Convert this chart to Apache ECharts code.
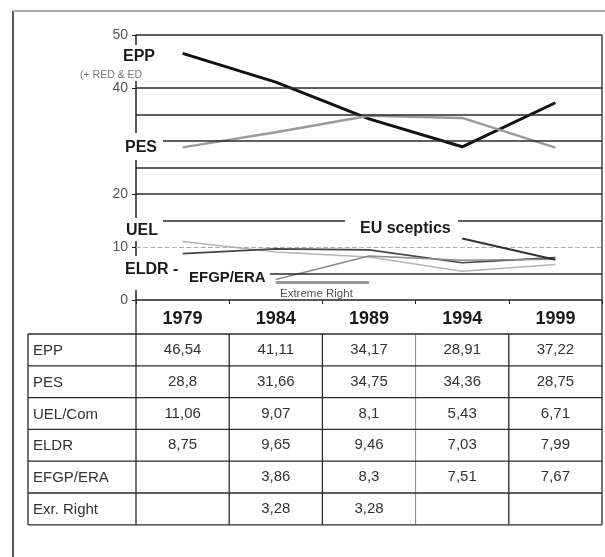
<!DOCTYPE html>
<html><head><meta charset="utf-8">
<script src="https://cdn.jsdelivr.net/npm/echarts/dist/echarts.min.js"></script>
<style>html,body{margin:0;padding:0;background:#fff}#c{width:605px;height:557px}</style>
</head><body><div id="c"></div>
<script>
// ---- data ----
const years = ['1979', '1984', '1989', '1994', '1999'];
const epp = [46.54, 41.11, 34.17, 28.91, 37.22];
const pes = [28.8, 31.66, 34.75, 34.36, 28.75];
const uelCom = [11.06, 9.07, 8.1, 5.43, 6.71];
const eldr = [8.75, 9.65, 9.46, 7.03, 7.99];
const efgpEra = [null, 3.86, 8.3, 7.51, 7.67];
const extrRight = [null, 3.28, 3.28, null, null];
const rowLabels = ['EPP', 'PES', 'UEL/Com', 'ELDR', 'EFGP/ERA', 'Exr. Right'];
const rowData = [epp, pes, uelCom, eldr, efgpEra, extrRight];
const gridValues = [5, 15, 20, 25, 30, 35, 40, 50];
const lightGridValues = [10];
const euPointer = [[3, 11.6], [4, 7.6]]; // annotation leader line (category index, value)

const FONT = '"Liberation Sans", Arial, Helvetica, sans-serif';
const chart = echarts.init(document.getElementById('c'), null, {renderer: 'canvas'});

function lineSeries(name, data, color, width) {
  return {name, type: 'line', data, symbol: 'none', showSymbol: false, connectNulls: false,
    lineStyle: {color, width}, itemStyle: {color}, z: 3, silent: true, animation: false,
    emphasis: {disabled: true}};
}

const option = {
  backgroundColor: '#fff',
  animation: false,
  grid: {left: 136, right: 3, top: 35, bottom: 257, containLabel: false},
  xAxis: {
    type: 'category', data: years, boundaryGap: true,
    axisLine: {lineStyle: {color: '#222', width: 1.5}},
    axisTick: {show: true, length: 4, lineStyle: {color: '#222'}},
    axisLabel: {fontFamily: FONT, fontSize: 18, fontWeight: 'bold', color: '#1a1a1a', margin: 10},
    splitLine: {show: false}
  },
  yAxis: {
    type: 'value', min: 0, max: 50, interval: 10,
    axisLine: {show: true, lineStyle: {color: '#222', width: 1.5}},
    axisTick: {show: true, length: 4, lineStyle: {color: '#222'}},
    axisLabel: {fontFamily: FONT, fontSize: 14, color: '#555', margin: 8},
    splitLine: {show: false}
  },
  series: [
    {type: 'line', data: [], z: 1, silent: true, animation: false,
      markLine: {silent: true, symbol: ['none', 'none'], label: {show: false}, animation: false,
        emphasis: {disabled: true},
        data: gridValues.map(v => ({yAxis: v, lineStyle: {color: '#2a2a2a', width: 1.5, type: 'solid'}}))
          .concat(lightGridValues.map(v => ({yAxis: v, lineStyle: {color: '#aaa', width: 1.2, type: 'dashed'}})))
          .concat([[{coord: euPointer[0], lineStyle: {color: '#333', width: 2, type: 'solid'}}, {coord: euPointer[1]}]])
      }},
    lineSeries('EPP', epp, '#111', 3),
    lineSeries('PES', pes, '#9a9a9a', 2.5),
    lineSeries('UEL/Com', uelCom, '#b4b4b4', 1.5),
    lineSeries('ELDR', eldr, '#444', 1.6),
    lineSeries('EFGP/ERA', efgpEra, '#8a8a8a', 1.5),
    lineSeries('Extr. Right', extrRight, '#999', 3)
  ]
};
chart.setOption(option);

// ---- table + annotations, positioned from the chart's own scales ----
const cx = years.map(y => chart.convertToPixel({xAxisIndex: 0}, y));
const bandW = cx[1] - cx[0];
const gLeft = cx[0] - bandW / 2, gRight = cx[cx.length - 1] + bandW / 2;
const y0 = chart.convertToPixel({yAxisIndex: 0}, 0);
const yTop = chart.convertToPixel({yAxisIndex: 0}, 50);
const headerBottom = y0 + 34, rowH = 31.8, tableLeft = 28;
const tableBottom = headerBottom + rowH * rowLabels.length;
const LS = {stroke: '#2a2a2a', lineWidth: 1.3};
const g = [];
function line(x1, y1, x2, y2, style, z) {
  g.push({type: 'line', z: z || 5, silent: true, shape: {x1, y1, x2, y2}, style: Object.assign({}, LS, style || {})});
}
// outer frame
line(13, 11, 13, 557, {stroke: '#555', lineWidth: 2});
line(13, 11, 605, 11, {stroke: '#aaa', lineWidth: 2});
// plot right border + table verticals
line(gRight, yTop, gRight, tableBottom);
line(gLeft, y0, gLeft, tableBottom);
line(tableLeft, headerBottom, tableLeft, tableBottom);
for (let i = 1; i < years.length; i++) {
  const x = cx[i] - bandW / 2;
  line(x, headerBottom, x, tableBottom, i === 3 ? {stroke: '#888', lineWidth: 1} : null);
}
for (let r = 0; r <= rowLabels.length; r++) {
  const y = headerBottom + r * rowH;
  line(tableLeft, y, gRight, y);
}
const fmt = v => (v === null || v === undefined) ? '' : String(v).replace('.', ',');
rowLabels.forEach((lab, r) => {
  const yc = headerBottom + r * rowH + rowH / 2;
  g.push({type: 'text', z: 6, silent: true, style: {text: lab, x: tableLeft + 5, y: yc + 1, font: '15px ' + FONT, fill: '#333', align: 'left', verticalAlign: 'middle'}});
  rowData[r].forEach((v, i) => {
    g.push({type: 'text', z: 6, silent: true, style: {text: fmt(v), x: cx[i], y: yc, font: '15px ' + FONT, fill: '#333', align: 'center', verticalAlign: 'middle'}});
  });
});
// label boxes (white, cover axis/grid like the original annotations)
function box(x, y, w, h) { g.push({type: 'rect', z: 50, silent: true, shape: {x, y, width: w, height: h}, style: {fill: '#fff'}}); }
function label(text, x, y, font, fill) { g.push({type: 'text', z: 51, silent: true, style: {text, x, y, font: font + ' ' + FONT, fill: fill || '#1a1a1a', align: 'left', verticalAlign: 'middle'}}); }
box(78, 45, 75, 36);
box(100, 133, 63, 27);
box(100, 218, 63, 23);
box(100, 256, 83, 34);
box(183, 266, 87, 24);
box(345, 218, 113, 23);
label('EPP', 123, 57, 'bold 16px');
label('(+ RED & ED', 80, 75, '10.5px', '#777');
label('PES', 125, 148, 'bold 16px');
label('UEL', 126, 231, 'bold 16px');
label('ELDR -', 125, 270, 'bold 16px');
label('EFGP/ERA', 189, 278, 'bold 15px');
label('EU sceptics', 360, 229, 'bold 16px');
label('Extreme Right', 280, 294, '11.5px', '#555');
chart.setOption({graphic: g});
</script></body></html>
